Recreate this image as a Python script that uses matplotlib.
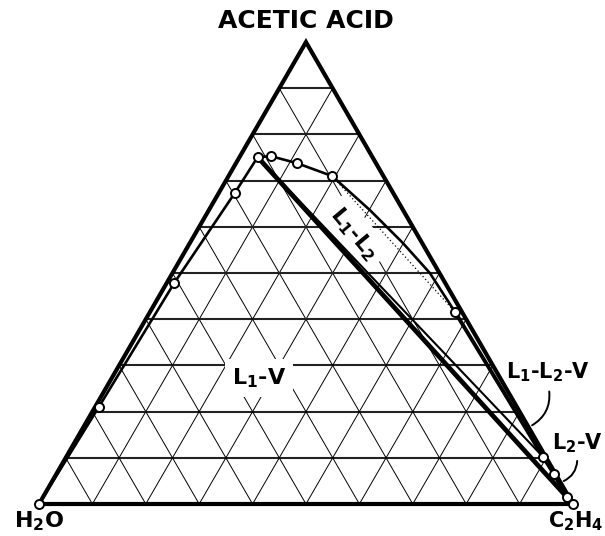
import numpy as np
import matplotlib.pyplot as plt

# compositions as (acetic acid, ethylene) fractions; water is the remainder
# L1 (water-rich) branch of the phase boundary, H2O corner up to the plait region
acid_l1 = [0.0, 0.210, 0.478, 0.673, 0.751]
eth_l1 = [0.0, 0.007, 0.014, 0.030, 0.034]

# upper branch across the top of the L1-L2 region
acid_top = [0.753, 0.738, 0.710]
eth_top = [0.058, 0.114, 0.194]
# traced points of the arc between the last top point and the ethylene side
acid_arc = [0.636, 0.565, 0.500]
eth_arc = [0.302, 0.399, 0.482]

# L2 (ethylene-rich) branch down to the C2H4 corner
acid_l2 = [0.416, 0.102, 0.065, 0.015, 0.0]
eth_l2 = [0.571, 0.893, 0.932, 0.981, 1.0]

TICKS = np.arange(1, 10) / 10
H = np.sqrt(3) / 2


def to_xy(acid, eth):
    acid = np.asarray(acid, dtype=float)
    eth = np.asarray(eth, dtype=float)
    return eth + acid / 2, acid * H


fig = plt.figure(figsize=(6.05, 5.36), dpi=100)
ax = fig.add_axes([0, 0, 1, 1])
ax.set_xlim(-0.073, 1.060)
ax.set_ylim(-0.060, 0.945)
ax.axis("off")

# grid: horizontal lines a bit heavier than the slanted ones
for t in TICKS:
    x, y = to_xy([t, t], [0, 1 - t])
    ax.plot(x, y, color="#222222", lw=1.5, zorder=1)
    x, y = to_xy([0, 1 - t], [t, t])
    ax.plot(x, y, color="black", lw=0.7, zorder=1)
    x, y = to_xy([0, 1 - t], [1 - t, 0])
    ax.plot(x, y, color="black", lw=0.7, zorder=1)

# triangle outline
x, y = to_xy([0, 0, 1, 0], [0, 1, 0, 0])
ax.plot(x, y, color="black", lw=3.0, solid_joinstyle="miter", zorder=3)

# phase boundary
x, y = to_xy(acid_l1, eth_l1)
ax.plot(x, y, color="black", lw=1.9, zorder=4)
x, y = to_xy([acid_l1[-1]] + acid_top + acid_arc + [acid_l2[0]],
             [eth_l1[-1]] + eth_top + eth_arc + [eth_l2[0]])
ax.plot(x, y, color="black", lw=1.9, zorder=4)
x, y = to_xy(acid_l2, eth_l2)
ax.plot(x, y, color="black", lw=2.8, zorder=4)

# three-phase triangle sides
x, y = to_xy([acid_l1[-1], acid_l2[3]], [eth_l1[-1], eth_l2[3]])
ax.plot(x, y, color="black", lw=3.4, zorder=4)
x, y = to_xy([acid_l1[-1], acid_l2[1]], [eth_l1[-1], eth_l2[1]])
ax.plot(x, y, color="black", lw=1.5, zorder=4)

# dotted tie line
x, y = to_xy([acid_top[-1], acid_l2[0]], [eth_top[-1], eth_l2[0]])
ax.plot(x, y, color="black", lw=0.9, ls=(0, (1, 2)), zorder=4)

# measured points
for acid, eth in [(acid_l1, eth_l1), (acid_top, eth_top), (acid_l2, eth_l2)]:
    x, y = to_xy(acid, eth)
    ax.plot(x, y, ls="none", marker="o", ms=6.5, mfc="white", mec="black",
            mew=1.4, zorder=5)

font = dict(color="black", fontweight="bold", family="DejaVu Sans")
box = dict(facecolor="white", edgecolor="none", pad=5)

ax.text(0.5, 0.905, "ACETIC ACID", fontsize=18, ha="center", va="center", **font)
ax.text(0.0, -0.032, "H$_\\mathbf{2}$O", fontsize=16, ha="center", va="center", **font)
ax.text(1.057, -0.032, "C$_\\mathbf{2}$H$_\\mathbf{4}$", fontsize=15, ha="right",
        va="center", **font)

ax.text(0.412, 0.236, "L$_\\mathbf{1}$-V", fontsize=16, ha="center", va="center",
        bbox=box, zorder=2, **font)
ax.text(0.590, 0.506, "L$_\\mathbf{1}$-L$_\\mathbf{2}$", fontsize=16, ha="center",
        va="center", rotation=-50, rotation_mode="anchor", bbox=box, zorder=2, **font)
ax.text(0.874, 0.248, "L$_\\mathbf{1}$-L$_\\mathbf{2}$-V", fontsize=15, ha="left",
        va="center", **font)
ax.text(0.960, 0.114, "L$_\\mathbf{2}$-V", fontsize=15, ha="left", va="center", **font)

# leader lines from the small-region labels
ax.annotate("", xy=(0.919, 0.145), xytext=(0.955, 0.216),
            arrowprops=dict(arrowstyle="-", lw=1.4, color="black",
                            connectionstyle="arc3,rad=-0.35"), zorder=6)
ax.annotate("", xy=(0.978, 0.041), xytext=(1.008, 0.086),
            arrowprops=dict(arrowstyle="-", lw=1.4, color="black",
                            connectionstyle="arc3,rad=-0.35"), zorder=6)

fig.savefig("out.png", dpi=100)
